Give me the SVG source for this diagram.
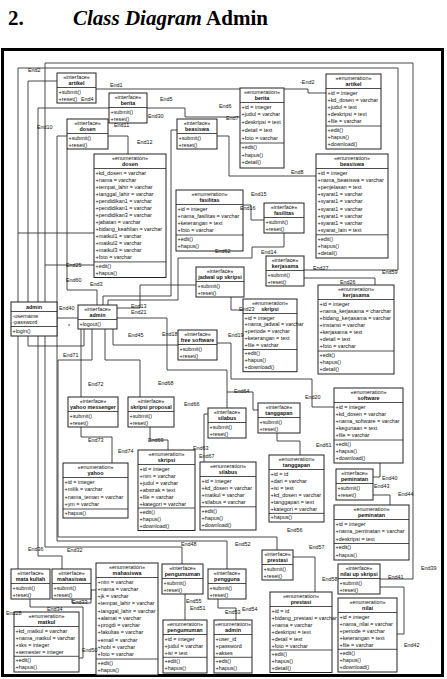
<svg xmlns="http://www.w3.org/2000/svg" width="447" height="679" viewBox="0 0 447 679">
<style>
.box{fill:#fff;stroke:#222;stroke-width:1}
.sep{stroke:#222;stroke-width:0.8}
text{font-family:"Liberation Sans",Arial,sans-serif;font-size:5.4px;fill:#111}
.c{text-anchor:middle}
.b{font-weight:bold;text-anchor:middle}
.con path{fill:none;stroke:#333;stroke-width:0.9}
.ttl{font-family:"Liberation Serif","Times New Roman",serif;font-size:21px;font-weight:bold;fill:#000}
</style>
<rect width="447" height="679" fill="#fff"/>
<text class="ttl" x="8" y="25">2.</text>
<text class="ttl" x="73" y="25"><tspan font-style="italic">Class Diagram</tspan> Admin</text>
<rect x="2.5" y="49.5" width="440" height="626" fill="none" stroke="#000" stroke-width="3"/>
<g id="connectors" class="con">
<path d="M380,579 H413 V63 H45 V547 H182 V564"/>
<path d="M304,270 H398 V68 H18 V569"/>
<path d="M304,278 H375 V285"/>
<path d="M57,81 H28 V346 H84 V329"/>
<path d="M96,89 H308 V93 H326"/>
<path d="M109,108 H38 V556 H62 V569"/>
<path d="M147,108 H185 V117 H240"/>
<path d="M57,136 H128 V154"/>
<path d="M57,136 V541 H227 V569"/>
<path d="M18,233 H94"/>
<path d="M45,265 H94"/>
<path d="M67,149 V290 H97 V305"/>
<path d="M177,130 H171 V296 H103 V305"/>
<path d="M217,136 H229 V176 H316"/>
<path d="M243,205 H251 V220 H264"/>
<path d="M284,233 V247 H252 V258 H178 V300 H108 V305"/>
<path d="M196,285 H140 V308 H117"/>
<path d="M231,297 V310 H243"/>
<path d="M217,343 H231 V379 H312 V407 H334"/>
<path d="M178,345 H113 V329"/>
<path d="M81,397 V329"/>
<path d="M81,427 V437 H112 V463"/>
<path d="M140,397 V360 H105 V329"/>
<path d="M150,427 V440 H168 V450"/>
<path d="M227,408 V370 H167 V318 H117"/>
<path d="M258,410 H253 V392 H227"/>
<path d="M208,414 H204 V462"/>
<path d="M277,433 V441 H300 V455"/>
<path d="M380,463 V477 H373"/>
<path d="M373,495 H390 V505"/>
<path d="M292,557 H315 V592"/>
<path d="M277,550 V537 H58 V360 H92 V329"/>
<path d="M380,587 H404 V634 H397"/>
<path d="M185,594 V620"/>
<path d="M218,599 V608 H236 V620"/>
<path d="M30,599 V607 H83 V658 H79"/>
<path d="M72,599 V603 H91 V590 H96"/>
<path d="M57,318 H78"/>
</g>
<g id="iface-artikel"><rect class="box" x="57" y="73" width="39" height="30"/><text class="c" x="76.5" y="78.5">«interface»</text><text class="b" x="76.5" y="85">artikel</text><line class="sep" x1="57" y1="87.5" x2="96" y2="87.5"/><text x="58.5" y="93.5">+submit()</text><text x="58.5" y="100.5">+reset()</text></g>
<g id="iface-berita"><rect class="box" x="109" y="93" width="38" height="30"/><text class="c" x="128" y="98.5">«interface»</text><text class="b" x="128" y="105">berita</text><line class="sep" x1="109" y1="107.5" x2="147" y2="107.5"/><text x="110.5" y="113.5">+submit()</text><text x="110.5" y="120.5">+reset()</text></g>
<g id="iface-dosen"><rect class="box" x="67" y="119" width="41" height="30"/><text class="c" x="87.5" y="124.5">«interface»</text><text class="b" x="87.5" y="131">dosen</text><line class="sep" x1="67" y1="133.5" x2="108" y2="133.5"/><text x="68.5" y="139.5">+submit()</text><text x="68.5" y="146.5">+reset()</text></g>
<g id="iface-beasiswa"><rect class="box" x="177" y="119" width="40" height="30"/><text class="c" x="197" y="124.5">«interface»</text><text class="b" x="197" y="131">beasiswa</text><line class="sep" x1="177" y1="133.5" x2="217" y2="133.5"/><text x="178.5" y="139.5">+submit()</text><text x="178.5" y="146.5">+reset()</text></g>
<g id="enum-berita"><rect class="box" x="240" y="88" width="44" height="80"/><text class="c" x="262" y="93.5">«enumeration»</text><text class="b" x="262" y="100">berita</text><line class="sep" x1="240" y1="102.5" x2="284" y2="102.5"/><text x="241.5" y="108.5">+id = integer</text><text x="241.5" y="116.3">+judul = varchar</text><text x="241.5" y="124.1">+deskripsi = text</text><text x="241.5" y="131.9">+detail = text</text><text x="241.5" y="139.7">+foto = varchar</text><line class="sep" x1="240" y1="143" x2="284" y2="143"/><text x="241.5" y="148.8">+edit()</text><text x="241.5" y="156.6">+hapus()</text><text x="241.5" y="164.4">+detail()</text></g>
<g id="enum-artikel"><rect class="box" x="326" y="74" width="55" height="75"/><text class="c" x="353.5" y="79.5">«enumeration»</text><text class="b" x="353.5" y="86">artikel</text><line class="sep" x1="326" y1="88.5" x2="381" y2="88.5"/><text x="327.5" y="94.5">+id = integer</text><text x="327.5" y="101.7">+kd_dosen = varchar</text><text x="327.5" y="108.9">+judul = text</text><text x="327.5" y="116.1">+deskripsi = text</text><text x="327.5" y="123.3">+file = varchar</text><line class="sep" x1="326" y1="126" x2="381" y2="126"/><text x="327.5" y="131.8">+edit()</text><text x="327.5" y="139">+hapus()</text><text x="327.5" y="146.2">+download()</text></g>
<g id="enum-beasiswa"><rect class="box" x="316" y="154" width="72" height="104"/><text class="c" x="352" y="159.5">«enumeration»</text><text class="b" x="352" y="166">beasiswa</text><line class="sep" x1="316" y1="168.5" x2="388" y2="168.5"/><text x="317.5" y="174.5">+id = integer</text><text x="317.5" y="181.7">+nama_beasiswa = varchar</text><text x="317.5" y="188.9">+penjelasan = text</text><text x="317.5" y="196.1">+syarat1 = varchar</text><text x="317.5" y="203.3">+syarat1 = varchar</text><text x="317.5" y="210.5">+syarat1 = varchar</text><text x="317.5" y="217.7">+syarat1 = varchar</text><text x="317.5" y="224.9">+syarat1 = varchar</text><text x="317.5" y="232.1">+syarat_lain = text</text><line class="sep" x1="316" y1="234.8" x2="388" y2="234.8"/><text x="317.5" y="240.6">+edit()</text><text x="317.5" y="247.8">+hapus()</text><text x="317.5" y="255">+detail()</text></g>
<g id="enum-dosen"><rect class="box" x="94" y="154" width="72" height="123.5"/><text class="c" x="130" y="159.5">«enumeration»</text><text class="b" x="130" y="166">dosen</text><line class="sep" x1="94" y1="168.5" x2="166" y2="168.5"/><text x="95.5" y="174.5">+kd_dosen = varchar</text><text x="95.5" y="181.6">+nama = varchar</text><text x="95.5" y="188.6">+tempat_lahir = varchar</text><text x="95.5" y="195.7">+tanggal_lahir = varchar</text><text x="95.5" y="202.8">+pendidikan1 = varchar</text><text x="95.5" y="209.9">+pendidikan1 = varchar</text><text x="95.5" y="216.9">+pendidikan3 = varchar</text><text x="95.5" y="224">+jabatan = varchar</text><text x="95.5" y="231.1">+bidang_keahlian = varchar</text><text x="95.5" y="238.1">+matkul1 = varchar</text><text x="95.5" y="245.2">+matkul2 = varchar</text><text x="95.5" y="252.3">+matkul3 = varchar</text><text x="95.5" y="259.3">+foto = varchar</text><line class="sep" x1="94" y1="261.9" x2="166" y2="261.9"/><text x="95.5" y="267.7">+edit()</text><text x="95.5" y="274.8">+hapus()</text></g>
<g id="enum-fasilitas"><rect class="box" x="176" y="190" width="67" height="61"/><text class="c" x="209.5" y="195.5">«enumeration»</text><text class="b" x="209.5" y="202">fasilitas</text><line class="sep" x1="176" y1="204.5" x2="243" y2="204.5"/><text x="177.5" y="210.5">+id = integer</text><text x="177.5" y="217.8">+nama_fasilitas = varchar</text><text x="177.5" y="225">+keterangan = text</text><text x="177.5" y="232.3">+foto = varchar</text><line class="sep" x1="176" y1="235" x2="243" y2="235"/><text x="177.5" y="240.8">+edit()</text><text x="177.5" y="248">+hapus()</text></g>
<g id="iface-fasilitas"><rect class="box" x="264" y="203" width="40" height="30"/><text class="c" x="284" y="208.5">«interface»</text><text class="b" x="284" y="215">fasilitas</text><line class="sep" x1="264" y1="217.5" x2="304" y2="217.5"/><text x="265.5" y="223.5">+submit()</text><text x="265.5" y="230.5">+reset()</text></g>
<g id="iface-kerjasama"><rect class="box" x="266" y="256" width="38" height="30"/><text class="c" x="285" y="261.5">«interface»</text><text class="b" x="285" y="268">kerjasama</text><line class="sep" x1="266" y1="270.5" x2="304" y2="270.5"/><text x="267.5" y="276.5">+submit()</text><text x="267.5" y="283.5">+reset()</text></g>
<g id="iface-jadwal"><rect class="box" x="196" y="267" width="48" height="30"/><text class="c" x="220" y="272.5">«interface»</text><text class="b" x="220" y="279">jadwal up skripsi</text><line class="sep" x1="196" y1="281.5" x2="244" y2="281.5"/><text x="197.5" y="287.5">+submit()</text><text x="197.5" y="294.5">+reset()</text></g>
<g id="enum-skripsi-jadwal"><rect class="box" x="243" y="299" width="54" height="72.7"/><text class="c" x="270" y="304.5">«enumeration»</text><text class="b" x="270" y="311">skripsi</text><line class="sep" x1="243" y1="313.5" x2="297" y2="313.5"/><text x="244.5" y="319.5">+id = integer</text><text x="244.5" y="326.4">+nama_jadwal = varchar</text><text x="244.5" y="333.3">+periode = varchar</text><text x="244.5" y="340.2">+keterangan = text</text><text x="244.5" y="347.1">+file = varchar</text><line class="sep" x1="243" y1="349.5" x2="297" y2="349.5"/><text x="244.5" y="355.3">+edit()</text><text x="244.5" y="362.2">+hapus()</text><text x="244.5" y="369.1">+download()</text></g>
<g id="enum-kerjasama"><rect class="box" x="318" y="285" width="76" height="89"/><text class="c" x="356" y="290.5">«enumeration»</text><text class="b" x="356" y="297">kerjasama</text><line class="sep" x1="318" y1="299.5" x2="394" y2="299.5"/><text x="319.5" y="305.5">+id = integer</text><text x="319.5" y="312.65">+nama_kerjasama = charchar</text><text x="319.5" y="319.8">+bidang_kerjasama = varchar</text><text x="319.5" y="326.95">+instansi = varchar</text><text x="319.5" y="334.1">+kerjasama = text</text><text x="319.5" y="341.25">+detail = text</text><text x="319.5" y="348.4">+foto = varchar</text><line class="sep" x1="318" y1="351" x2="394" y2="351"/><text x="319.5" y="356.85">+edit()</text><text x="319.5" y="364">+hapus()</text><text x="319.5" y="371.15">+detail()</text></g>
<g id="iface-freesoftware"><rect class="box" x="178" y="330" width="39" height="30"/><text class="c" x="197.5" y="335.5">«interface»</text><text class="b" x="197.5" y="342">free software</text><line class="sep" x1="178" y1="344.5" x2="217" y2="344.5"/><text x="179.5" y="350.5">+submit()</text><text x="179.5" y="357.5">+reset()</text></g>
<g id="enum-software"><rect class="box" x="334" y="388" width="69" height="75"/><text class="c" x="368.5" y="393.5">«enumeration»</text><text class="b" x="368.5" y="400">software</text><line class="sep" x1="334" y1="402.5" x2="403" y2="402.5"/><text x="335.5" y="408.5">+id = integer</text><text x="335.5" y="415.7">+kd_dosen = varchar</text><text x="335.5" y="422.9">+nama_software = varchar</text><text x="335.5" y="430.1">+kegunaan = text</text><text x="335.5" y="437.3">+file = varchar</text><line class="sep" x1="334" y1="440" x2="403" y2="440"/><text x="335.5" y="445.8">+edit()</text><text x="335.5" y="453">+hapus()</text><text x="335.5" y="460.2">+download()</text></g>
<g id="class-admin"><rect class="box" x="11" y="302" width="46" height="34"/><text class="b" x="34" y="308.5">admin</text><line class="sep" x1="11" y1="311.5" x2="57" y2="311.5"/><text x="12.5" y="317.5">-username</text><text x="12.5" y="324">-password</text><line class="sep" x1="11" y1="326.5" x2="57" y2="326.5"/><text x="12.5" y="332.5">+login()</text></g>
<g id="iface-admin"><rect class="box" x="78" y="305" width="39" height="24"/><text class="c" x="97.5" y="310.5">«interface»</text><text class="b" x="97.5" y="317">admin</text><line class="sep" x1="78" y1="319.5" x2="117" y2="319.5"/><text x="79.5" y="325.5">+logout()</text></g>
<g id="iface-yahoo"><rect class="box" x="68" y="397" width="50" height="30"/><text class="c" x="93" y="402.5">«interface»</text><text class="b" x="93" y="409">yahoo messenger</text><line class="sep" x1="68" y1="411.5" x2="118" y2="411.5"/><text x="69.5" y="417.5">+submit()</text><text x="69.5" y="424.5">+reset()</text></g>
<g id="iface-skripsiproposal"><rect class="box" x="128" y="397" width="46" height="30"/><text class="c" x="151" y="402.5">«interface»</text><text class="b" x="151" y="409">skripsi proposal</text><line class="sep" x1="128" y1="411.5" x2="174" y2="411.5"/><text x="129.5" y="417.5">+submit()</text><text x="129.5" y="424.5">+reset()</text></g>
<g id="iface-silabus"><rect class="box" x="208" y="408" width="38" height="30"/><text class="c" x="227" y="413.5">«interface»</text><text class="b" x="227" y="420">silabus</text><line class="sep" x1="208" y1="422.5" x2="246" y2="422.5"/><text x="209.5" y="428.5">+submit()</text><text x="209.5" y="435.5">+reset()</text></g>
<g id="iface-tanggapan"><rect class="box" x="258" y="403" width="42" height="30"/><text class="c" x="279" y="408.5">«interface»</text><text class="b" x="279" y="415">tanggapan</text><line class="sep" x1="258" y1="417.5" x2="300" y2="417.5"/><text x="259.5" y="423.5">+submit()</text><text x="259.5" y="430.5">+reset()</text></g>
<g id="enum-yahoo"><rect class="box" x="63" y="463" width="65" height="55"/><text class="c" x="95.5" y="468.5">«enumeration»</text><text class="b" x="95.5" y="475">yahoo</text><line class="sep" x1="63" y1="477.5" x2="128" y2="477.5"/><text x="64.5" y="483.5">+id = integer</text><text x="64.5" y="491">+milik = varchar</text><text x="64.5" y="498.5">+nama_teman = varchar</text><text x="64.5" y="506">+ym = varchar</text><line class="sep" x1="63" y1="509" x2="128" y2="509"/><text x="64.5" y="514.8">+hapus()</text></g>
<g id="enum-skripsi"><rect class="box" x="138" y="450" width="57" height="80.5"/><text class="c" x="166.5" y="455.5">«enumeration»</text><text class="b" x="166.5" y="462">skripsi</text><line class="sep" x1="138" y1="464.5" x2="195" y2="464.5"/><text x="139.5" y="470.5">+id = integer</text><text x="139.5" y="477.5">+nim = varchar</text><text x="139.5" y="484.5">+judul = varchar</text><text x="139.5" y="491.5">+abstrak = text</text><text x="139.5" y="498.5">+file = varchar</text><text x="139.5" y="505.5">+kategori = varchar</text><line class="sep" x1="138" y1="508" x2="195" y2="508"/><text x="139.5" y="513.8">+edit()</text><text x="139.5" y="520.8">+hapus()</text><text x="139.5" y="527.8">+download()</text></g>
<g id="enum-silabus"><rect class="box" x="200" y="462" width="56" height="68"/><text class="c" x="228" y="467.5">«enumeration»</text><text class="b" x="228" y="474">silabus</text><line class="sep" x1="200" y1="476.5" x2="256" y2="476.5"/><text x="201.5" y="482.5">+id = integer</text><text x="201.5" y="489.7">+kd_dosen = varchar</text><text x="201.5" y="496.9">+matkul = varchar</text><text x="201.5" y="504.1">+silabus = varchar</text><line class="sep" x1="200" y1="506.8" x2="256" y2="506.8"/><text x="201.5" y="512.6">+edit()</text><text x="201.5" y="519.8">+hapus()</text><text x="201.5" y="527">+download()</text></g>
<g id="enum-tanggapan"><rect class="box" x="269" y="455" width="55" height="67"/><text class="c" x="296.5" y="460.5">«enumeration»</text><text class="b" x="296.5" y="467">tanggapan</text><line class="sep" x1="269" y1="469.5" x2="324" y2="469.5"/><text x="270.5" y="475.5">+id = id</text><text x="270.5" y="482.6">+dari = varchar</text><text x="270.5" y="489.6">+isi = text</text><text x="270.5" y="496.7">+kd_dosen = varchar</text><text x="270.5" y="503.8">+tanggapan = text</text><text x="270.5" y="510.9">+kategori = varchar</text><line class="sep" x1="269" y1="513.4" x2="324" y2="513.4"/><text x="270.5" y="519.2">+hapus()</text></g>
<g id="iface-peminatan"><rect class="box" x="336" y="469" width="37" height="31"/><text class="c" x="354.5" y="474.5">«interface»</text><text class="b" x="354.5" y="481">peminatan</text><line class="sep" x1="336" y1="483.5" x2="373" y2="483.5"/><text x="337.5" y="489.5">+submit()</text><text x="337.5" y="496.5">+reset()</text></g>
<g id="enum-peminatan"><rect class="box" x="334" y="505" width="75" height="55"/><text class="c" x="371.5" y="510.5">«enumeration»</text><text class="b" x="371.5" y="517">peminatan</text><line class="sep" x1="334" y1="519.5" x2="409" y2="519.5"/><text x="335.5" y="525.5">+id = integer</text><text x="335.5" y="533">+nama_peminatan = varchar</text><text x="335.5" y="540.5">+deskripsi = text</text><line class="sep" x1="334" y1="543.5" x2="409" y2="543.5"/><text x="335.5" y="549.3">+edit()</text><text x="335.5" y="556.8">+hapus()</text></g>
<g id="iface-prestasi"><rect class="box" x="262" y="550" width="31" height="30"/><text class="c" x="277.5" y="555.5">«interface»</text><text class="b" x="277.5" y="562">prestasi</text><line class="sep" x1="262" y1="564.5" x2="293" y2="564.5"/><text x="263.5" y="570.5">+submit()</text><text x="263.5" y="577.5">+reset()</text></g>
<g id="iface-nilai"><rect class="box" x="338" y="564" width="42" height="30"/><text class="c" x="359" y="569.5">«interface»</text><text class="b" x="359" y="576">nilai up skripsi</text><line class="sep" x1="338" y1="578.5" x2="380" y2="578.5"/><text x="339.5" y="584.5">+submit()</text><text x="339.5" y="591.5">+reset()</text></g>
<g id="enum-prestasi"><rect class="box" x="270" y="592" width="62" height="80.5"/><text class="c" x="301" y="597.5">«enumeration»</text><text class="b" x="301" y="604">prestasi</text><line class="sep" x1="270" y1="606.5" x2="332" y2="606.5"/><text x="271.5" y="612.5">+id = id</text><text x="271.5" y="619.5">+bidang_prestasi = varchar</text><text x="271.5" y="626.5">+nama = varchar</text><text x="271.5" y="633.5">+deskripsi = text</text><text x="271.5" y="640.5">+detail = text</text><text x="271.5" y="647.5">+foto = varchar</text><line class="sep" x1="270" y1="650" x2="332" y2="650"/><text x="271.5" y="655.8">+edit()</text><text x="271.5" y="662.8">+hapus()</text><text x="271.5" y="669.8">+detail()</text></g>
<g id="enum-nilai"><rect class="box" x="338" y="598" width="59" height="74"/><text class="c" x="367.5" y="603.5">«enumeration»</text><text class="b" x="367.5" y="610">nilai</text><line class="sep" x1="338" y1="612.5" x2="397" y2="612.5"/><text x="339.5" y="618.5">+id = integer</text><text x="339.5" y="625.6">+nama_nilai = varchar</text><text x="339.5" y="632.6">+periode = varchar</text><text x="339.5" y="639.7">+keterangan = text</text><text x="339.5" y="646.7">+file = varchar</text><line class="sep" x1="338" y1="649.3" x2="397" y2="649.3"/><text x="339.5" y="655.1">+edit()</text><text x="339.5" y="662.2">+hapus()</text><text x="339.5" y="669.2">+download()</text></g>
<g id="iface-pengumuman"><rect class="box" x="162" y="564" width="41" height="30"/><text class="c" x="182.5" y="569.5">«interface»</text><text class="b" x="182.5" y="576">pengumuman</text><line class="sep" x1="162" y1="578.5" x2="203" y2="578.5"/><text x="163.5" y="584.5">+submit()</text><text x="163.5" y="591.5">+reset()</text></g>
<g id="iface-pengguna"><rect class="box" x="208" y="569" width="38" height="30"/><text class="c" x="227" y="574.5">«interface»</text><text class="b" x="227" y="581">pengguna</text><line class="sep" x1="208" y1="583.5" x2="246" y2="583.5"/><text x="209.5" y="589.5">+submit()</text><text x="209.5" y="596.5">+reset()</text></g>
<g id="enum-pengumuman"><rect class="box" x="163" y="620" width="44" height="53"/><text class="c" x="185" y="625.5">«enumeration»</text><text class="b" x="185" y="632">pengumuman</text><line class="sep" x1="163" y1="634.5" x2="207" y2="634.5"/><text x="164.5" y="640.5">+id = integer</text><text x="164.5" y="647.6">+judul = varchar</text><text x="164.5" y="654.7">+isi = text</text><line class="sep" x1="163" y1="657.3" x2="207" y2="657.3"/><text x="164.5" y="663.1">+edit()</text><text x="164.5" y="670.2">+hapus()</text></g>
<g id="enum-admin"><rect class="box" x="214" y="620" width="38" height="53"/><text class="c" x="233" y="625.5">«enumeration»</text><text class="b" x="233" y="632">admin</text><line class="sep" x1="214" y1="634.5" x2="252" y2="634.5"/><text x="215.5" y="640.5">+user_id</text><text x="215.5" y="647.6">+password</text><text x="215.5" y="654.7">+akses</text><line class="sep" x1="214" y1="657.3" x2="252" y2="657.3"/><text x="215.5" y="663.1">+edit()</text><text x="215.5" y="670.2">+hapus()</text></g>
<g id="iface-matakuliah"><rect class="box" x="11" y="569" width="39" height="30"/><text class="c" x="30.5" y="574.5">«interface»</text><text class="b" x="30.5" y="581">mata kuliah</text><line class="sep" x1="11" y1="583.5" x2="50" y2="583.5"/><text x="12.5" y="589.5">+submit()</text><text x="12.5" y="596.5">+reset()</text></g>
<g id="iface-mahasiswa"><rect class="box" x="52" y="569" width="39" height="30"/><text class="c" x="71.5" y="574.5">«interface»</text><text class="b" x="71.5" y="581">mahasiswa</text><line class="sep" x1="52" y1="583.5" x2="91" y2="583.5"/><text x="53.5" y="589.5">+submit()</text><text x="53.5" y="596.5">+reset()</text></g>
<g id="enum-matkul"><rect class="box" x="14" y="612" width="65" height="60"/><text class="c" x="46.5" y="617.5">«enumeration»</text><text class="b" x="46.5" y="624">matkul</text><line class="sep" x1="14" y1="626.5" x2="79" y2="626.5"/><text x="15.5" y="632.5">+kd_matkul = varchar</text><text x="15.5" y="639.6">+nama_matkul = varchar</text><text x="15.5" y="646.7">+sks = integer</text><text x="15.5" y="653.7">+semester = integer</text><line class="sep" x1="14" y1="656.3" x2="79" y2="656.3"/><text x="15.5" y="662.1">+edit()</text><text x="15.5" y="669.2">+hapus()</text></g>
<g id="enum-mahasiswa"><rect class="box" x="96" y="563" width="62" height="112"/><text class="c" x="127" y="568.5">«enumeration»</text><text class="b" x="127" y="575">mahasiswa</text><line class="sep" x1="96" y1="577.5" x2="158" y2="577.5"/><text x="97.5" y="583.5">+nim = varchar</text><text x="97.5" y="590.8">+nama = varchar</text><text x="97.5" y="598">+jk = varchar</text><text x="97.5" y="605.3">+tempat_lahir = varchar</text><text x="97.5" y="612.6">+tanggal_lahir = varchar</text><text x="97.5" y="619.9">+alamat = varchar</text><text x="97.5" y="627.1">+progdi = varchar</text><text x="97.5" y="634.4">+fakultas = varchar</text><text x="97.5" y="641.7">+email = varchar</text><text x="97.5" y="648.9">+hobi = varchar</text><text x="97.5" y="656.2">+foto = varchar</text><line class="sep" x1="96" y1="659" x2="158" y2="659"/><text x="97.5" y="664.8">+edit()</text><text x="97.5" y="672.1">+hapus()</text></g>
<g id="labels">
<text x="28" y="72">End2</text><text x="110" y="87">End1</text><text x="81" y="101">End4</text><text x="114" y="127">End11</text>
<text x="37" y="129">End10</text><text x="137" y="144">End12</text><text x="160" y="101">End5</text><text x="148" y="118">End30</text>
<text x="219" y="108">End6</text><text x="226" y="120">End7</text><text x="300" y="84">-End2</text><text x="291" y="174">End8</text>
<text x="251" y="196">End15</text><text x="240" y="210">End16</text><text x="215" y="253">End62</text><text x="261" y="254">End14</text>
<text x="313" y="270">End27</text><text x="382" y="274">End59</text><text x="340" y="284">End26</text><text x="239" y="311">End23</text>
<text x="162" y="336">End18</text><text x="228" y="337">End19</text><text x="128" y="337">End45</text><text x="131" y="308">End13</text>
<text x="131" y="314">End21</text><text x="66" y="267">End25</text><text x="66" y="282">End60</text><text x="90" y="286">End3</text>
<text x="59" y="310">End40</text><text x="68" y="328">*</text><text x="88" y="386">End72</text><text x="88" y="442">End73</text>
<text x="118" y="453">End74</text><text x="63" y="357">End71</text><text x="158" y="385">End68</text><text x="184" y="406">End66</text>
<text x="234" y="393">End64</text><text x="148" y="442">End69</text><text x="193" y="450">End63</text><text x="199" y="458">End67</text>
<text x="305" y="399">End20</text><text x="316" y="447">End61</text><text x="374" y="488">End43</text><text x="382" y="480">End40</text>
<text x="398" y="496">End44</text><text x="287" y="532">End56</text><text x="309" y="549">End57</text><text x="181" y="546">End48</text>
<text x="235" y="546">End52</text><text x="28" y="551">End36</text><text x="67" y="552">End32</text><text x="6" y="615">End28</text>
<text x="47" y="611">End34</text><text x="72" y="604">End33</text><text x="82" y="652">End50</text><text x="186" y="603">End55</text>
<text x="190" y="610">End51</text><text x="225" y="614">End53</text><text x="242" y="611">End54</text><text x="322" y="581">End58</text>
<text x="388" y="579">End41</text><text x="421" y="570">End39</text><text x="404" y="647">End42</text>
</g>
</svg>
